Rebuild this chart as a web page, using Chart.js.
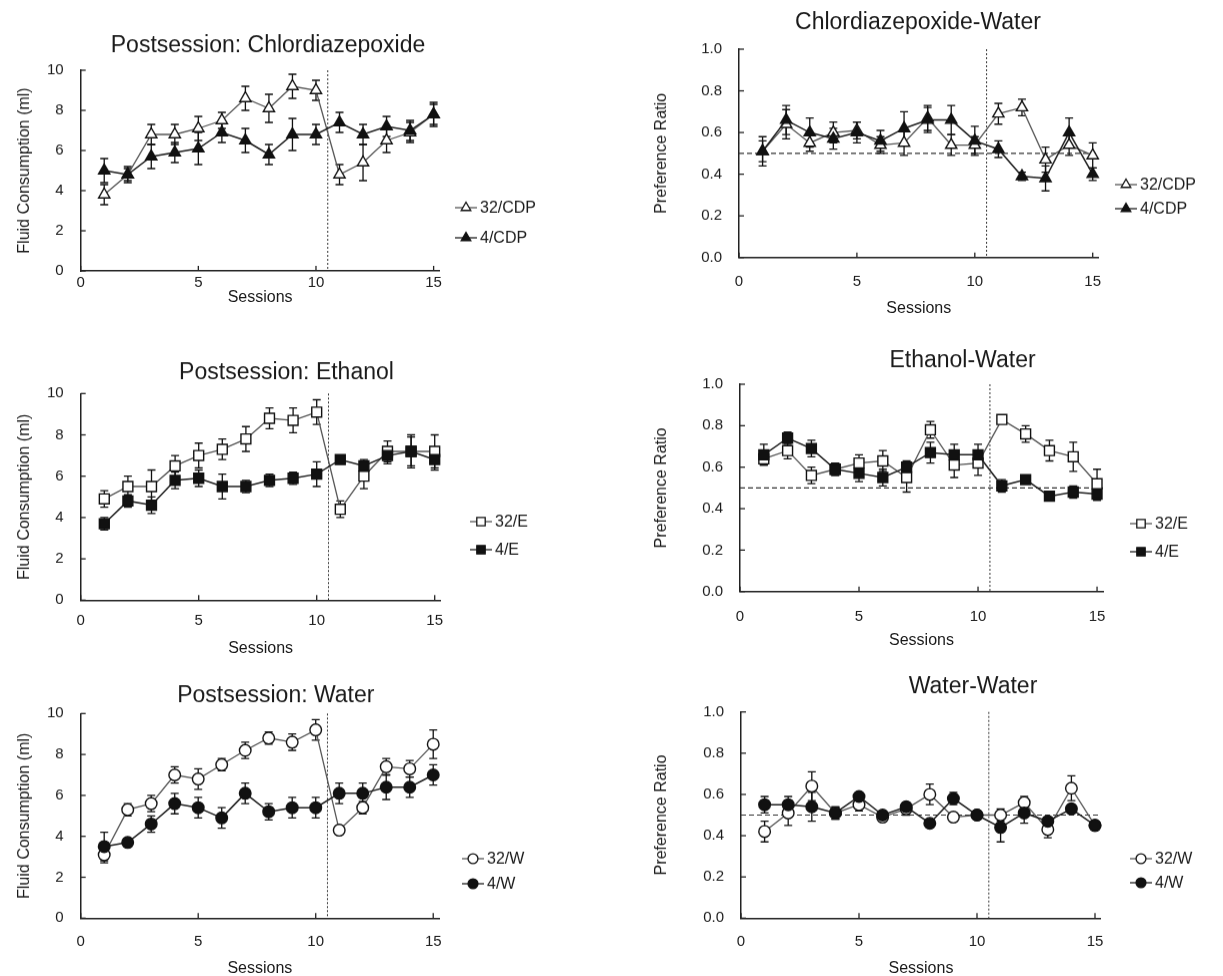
<!DOCTYPE html>
<html>
<head>
<meta charset="utf-8">
<script src="https://cdn.jsdelivr.net/npm/chart.js@4.4.1/dist/chart.umd.min.js"></script>
<style>
  html, body { margin: 0; padding: 0; background: #fff; }
  #page { position: relative; width: 1223px; height: 976px; overflow: hidden; }
  .panel { position: absolute; }
</style>
</head>
<body>
<div id="page"></div>
<script>
const sessions = [1, 2, 3, 4, 5, 6, 7, 8, 9, 10, 11, 12, 13, 14, 15];
const sessionTicks = [0, 5, 10, 15];
const volumeTicks = [0, 2, 4, 6, 8, 10];
const ratioTicks = [0, 0.2, 0.4, 0.6, 0.8, 1.0];
const switchSession = 10.5;
const indifference = 0.5;

// Postsession: Chlordiazepoxide (ml)
const cdp32 = [3.8, 4.8, 6.8, 6.8, 7.1, 7.5, 8.6, 8.1, 9.2, 9.0, 4.8, 5.4, 6.5, 6.9, 7.8];
const cdp32Err = [0.5, 0.3, 0.5, 0.5, 0.6, 0.4, 0.6, 0.7, 0.6, 0.5, 0.5, 0.9, 0.6, 0.5, 0.5];
const cdp4 = [5.0, 4.8, 5.7, 5.9, 6.1, 6.9, 6.5, 5.8, 6.8, 6.8, 7.4, 6.8, 7.2, 7.0, 7.8];
const cdp4Err = [0.6, 0.4, 0.6, 0.5, 0.8, 0.5, 0.6, 0.5, 0.8, 0.5, 0.5, 0.5, 0.5, 0.5, 0.6];

// Chlordiazepoxide-Water preference
const cdpw32 = [0.51, 0.64, 0.55, 0.60, 0.61, 0.54, 0.55, 0.67, 0.54, 0.54, 0.69, 0.72, 0.47, 0.54, 0.49];
const cdpw32Err = [0.05, 0.07, 0.04, 0.05, 0.04, 0.04, 0.06, 0.06, 0.05, 0.04, 0.05, 0.04, 0.06, 0.05, 0.06];
const cdpw4 = [0.51, 0.66, 0.60, 0.57, 0.60, 0.56, 0.62, 0.66, 0.66, 0.56, 0.52, 0.39, 0.38, 0.60, 0.40];
const cdpw4Err = [0.07, 0.07, 0.07, 0.05, 0.05, 0.05, 0.08, 0.06, 0.07, 0.07, 0.04, 0.02, 0.06, 0.07, 0.03];

// Postsession: Ethanol (ml)
const eth32 = [4.9, 5.5, 5.5, 6.5, 7.0, 7.3, 7.8, 8.8, 8.7, 9.1, 4.4, 6.0, 7.2, 7.2, 7.2];
const eth32Err = [0.4, 0.5, 0.8, 0.5, 0.6, 0.5, 0.6, 0.5, 0.6, 0.6, 0.4, 0.6, 0.5, 0.7, 0.8];
const eth4 = [3.7, 4.8, 4.6, 5.8, 5.9, 5.5, 5.5, 5.8, 5.9, 6.1, 6.8, 6.5, 7.0, 7.2, 6.8];
const eth4Err = [0.3, 0.3, 0.4, 0.4, 0.4, 0.6, 0.3, 0.3, 0.3, 0.6, 0.2, 0.3, 0.4, 0.8, 0.5];

// Ethanol-Water preference
const ethw32 = [0.64, 0.68, 0.56, 0.59, 0.62, 0.63, 0.55, 0.78, 0.61, 0.62, 0.83, 0.76, 0.68, 0.65, 0.52];
const ethw32Err = [0.03, 0.04, 0.04, 0.03, 0.04, 0.05, 0.07, 0.04, 0.06, 0.06, 0.02, 0.04, 0.05, 0.07, 0.07];
const ethw4 = [0.66, 0.74, 0.69, 0.59, 0.57, 0.55, 0.60, 0.67, 0.66, 0.66, 0.51, 0.54, 0.46, 0.48, 0.47];
const ethw4Err = [0.05, 0.03, 0.04, 0.03, 0.04, 0.04, 0.03, 0.05, 0.05, 0.05, 0.03, 0.02, 0.02, 0.03, 0.03];

// Postsession: Water (ml)
const wat32 = [3.1, 5.3, 5.6, 7.0, 6.8, 7.5, 8.2, 8.8, 8.6, 9.2, 4.3, 5.4, 7.4, 7.3, 8.5];
const wat32Err = [0.4, 0.3, 0.4, 0.4, 0.5, 0.3, 0.4, 0.3, 0.4, 0.5, 0.2, 0.3, 0.4, 0.4, 0.7];
const wat4 = [3.5, 3.7, 4.6, 5.6, 5.4, 4.9, 6.1, 5.2, 5.4, 5.4, 6.1, 6.1, 6.4, 6.4, 7.0];
const wat4Err = [0.7, 0.2, 0.4, 0.5, 0.5, 0.5, 0.5, 0.4, 0.5, 0.5, 0.5, 0.5, 0.6, 0.5, 0.5];

// Water-Water preference
const watw32 = [0.42, 0.51, 0.64, 0.51, 0.55, 0.49, 0.53, 0.60, 0.49, 0.50, 0.50, 0.56, 0.43, 0.63, 0.45];
const watw32Err = [0.05, 0.06, 0.07, 0.03, 0.03, 0.02, 0.03, 0.05, 0.02, 0.02, 0.03, 0.03, 0.04, 0.06, 0.02];
const watw4 = [0.55, 0.55, 0.54, 0.51, 0.59, 0.50, 0.54, 0.46, 0.58, 0.50, 0.44, 0.51, 0.47, 0.53, 0.45];
const watw4Err = [0.04, 0.04, 0.07, 0.03, 0.02, 0.02, 0.02, 0.02, 0.03, 0.02, 0.07, 0.05, 0.02, 0.02, 0.02];

const FONT = '"Liberation Sans", Arial, Helvetica, sans-serif';
const INK = '#1a1a1a';
Chart.defaults.font.family = FONT;
Chart.defaults.color = INK;

function marker(ctx, style, x, y, r, fill, stroke) {
  ctx.beginPath();
  if (style === 'triangle') {
    ctx.moveTo(x, y - r);
    ctx.lineTo(x + r * 0.866, y + r * 0.5);
    ctx.lineTo(x - r * 0.866, y + r * 0.5);
    ctx.closePath();
  } else if (style === 'rect') {
    const s = r * Math.SQRT2;
    ctx.rect(x - s / 2, y - s / 2, s, s);
  } else {
    ctx.arc(x, y, r, 0, Math.PI * 2);
  }
  ctx.fillStyle = fill;
  ctx.fill();
  ctx.lineWidth = 1.3;
  ctx.strokeStyle = stroke;
  ctx.stroke();
}

// dotted switch line, dashed 0.5 line, inward ticks, error bars
const guides = {
  id: 'guides',
  beforeDatasetsDraw(chart, args, opts) {
    const { ctx, chartArea: a, scales: { x, y } } = chart;
    ctx.save();
    ctx.strokeStyle = '#333';
    ctx.lineWidth = 1;
    ctx.setLineDash([2, 2]);
    const sx = x.getPixelForValue(switchSession);
    ctx.beginPath(); ctx.moveTo(sx, a.top); ctx.lineTo(sx, a.bottom); ctx.stroke();
    if (opts.ratio) {
      ctx.setLineDash([5, 3]);
      ctx.lineWidth = 1.2;
      const hy = y.getPixelForValue(indifference);
      ctx.beginPath(); ctx.moveTo(a.left, hy); ctx.lineTo(a.right, hy); ctx.stroke();
    }
    ctx.setLineDash([]);
    ctx.strokeStyle = '#222';
    ctx.lineWidth = 1.3;
    x.ticks.forEach(t => {
      const px = x.getPixelForValue(t.value);
      ctx.beginPath(); ctx.moveTo(px, a.bottom); ctx.lineTo(px, a.bottom - 5); ctx.stroke();
    });
    y.ticks.forEach(t => {
      const py = y.getPixelForValue(t.value);
      ctx.beginPath(); ctx.moveTo(a.left, py); ctx.lineTo(a.left + 5, py); ctx.stroke();
    });
    ctx.strokeStyle = '#111';
    chart.data.datasets.forEach(ds => {
      ds.data.forEach((p, i) => {
        const e = ds.errors[i];
        const px = x.getPixelForValue(p.x);
        const hi = y.getPixelForValue(p.y + e);
        const lo = y.getPixelForValue(p.y - e);
        ctx.beginPath();
        ctx.moveTo(px, hi); ctx.lineTo(px, lo);
        ctx.moveTo(px - 4, hi); ctx.lineTo(px + 4, hi);
        ctx.moveTo(px - 4, lo); ctx.lineTo(px + 4, lo);
        ctx.stroke();
      });
    });
    ctx.restore();
  }
};

const panelTitle = {
  id: 'panelTitle',
  afterDraw(chart, args, opts) {
    const { ctx } = chart;
    ctx.save();
    ctx.font = '23px ' + FONT;
    ctx.fillStyle = INK;
    ctx.textAlign = 'center';
    ctx.textBaseline = 'alphabetic';
    ctx.fillText(opts.text, opts.x, opts.y);
    ctx.restore();
  }
};

const sideLegend = {
  id: 'sideLegend',
  afterDraw(chart, args, opts) {
    const { ctx } = chart;
    chart.data.datasets.forEach((ds, i) => {
      const x = opts.x, y = opts.y[i];
      ctx.save();
      ctx.strokeStyle = ds.borderColor;
      ctx.lineWidth = 1.3;
      ctx.beginPath(); ctx.moveTo(x, y); ctx.lineTo(x + 22, y); ctx.stroke();
      marker(ctx, ds.pointStyle, x + 11, y, ds.pointRadius * 0.85, ds.pointBackgroundColor, ds.pointBorderColor);
      ctx.fillStyle = INK;
      ctx.font = '16px ' + FONT;
      ctx.textAlign = 'left';
      ctx.textBaseline = 'middle';
      ctx.fillText(ds.label, x + 25, y + 1);
      ctx.restore();
    });
  }
};

function series(label, values, errors, style, filled) {
  return {
    label,
    data: sessions.map((s, i) => ({ x: s, y: values[i] })),
    errors,
    borderColor: filled ? '#1e1e1e' : '#555',
    borderWidth: filled ? 1.5 : 1.3,
    tension: 0,
    pointStyle: style,
    pointRadius: style === 'rect' ? 7 : style === 'triangle' ? 6.5 : 5.8,
    pointBackgroundColor: filled ? '#111' : '#fff',
    pointBorderColor: '#111',
    pointBorderWidth: 1.4,
    order: filled ? 0 : 1,
    clip: false
  };
}

const panels = [
  { box: { left: 0, top: 0, width: 572 }, area: { l: 80.7, t: 70, r: 439.5, b: 270 },
    xLabel: 282, xTitle: 297, title: 'Postsession: Chlordiazepoxide', titlePos: [268, 52],
    ratio: false, legend: { x: 455, y: [207, 237] },
    series: [series('32/CDP', cdp32, cdp32Err, 'triangle', false), series('4/CDP', cdp4, cdp4Err, 'triangle', true)] },
  { box: { left: 640, top: 0, width: 583 }, area: { l: 739, t: 49, r: 1098.6, b: 256.7 },
    xLabel: 281, xTitle: 308, title: 'Chlordiazepoxide-Water', titlePos: [918, 29],
    ratio: true, legend: { x: 1115, y: [184, 208] },
    series: [series('32/CDP', cdpw32, cdpw32Err, 'triangle', false), series('4/CDP', cdpw4, cdpw4Err, 'triangle', true)] },
  { box: { left: 0, top: 320, width: 572 }, area: { l: 80.7, t: 393.3, r: 440.6, b: 599.3 },
    xLabel: 620, xTitle: 648, title: 'Postsession: Ethanol', titlePos: [286.5, 379],
    ratio: false, legend: { x: 470, y: [521, 549] },
    series: [series('32/E', eth32, eth32Err, 'rect', false), series('4/E', eth4, eth4Err, 'rect', true)] },
  { box: { left: 640, top: 320, width: 583 }, area: { l: 740, t: 384, r: 1103, b: 590.7 },
    xLabel: 616, xTitle: 640, title: 'Ethanol-Water', titlePos: [962.5, 367],
    ratio: true, legend: { x: 1130, y: [523, 551] },
    series: [series('32/E', ethw32, ethw32Err, 'rect', false), series('4/E', ethw4, ethw4Err, 'rect', true)] },
  { box: { left: 0, top: 640, width: 572 }, area: { l: 80.7, t: 713.3, r: 439.1, b: 917.3 },
    xLabel: 941, xTitle: 968, title: 'Postsession: Water', titlePos: [275.8, 702],
    ratio: false, legend: { x: 462, y: [858, 883] },
    series: [series('32/W', wat32, wat32Err, 'circle', false), series('4/W', wat4, wat4Err, 'circle', true)] },
  { box: { left: 640, top: 640, width: 583 }, area: { l: 741, t: 711.7, r: 1100.9, b: 917.3 },
    xLabel: 941, xTitle: 968, title: 'Water-Water', titlePos: [973, 693],
    ratio: true, legend: { x: 1130, y: [858, 882] },
    series: [series('32/W', watw32, watw32Err, 'circle', false), series('4/W', watw4, watw4Err, 'circle', true)] }
];

const page = document.getElementById('page');
const TICK_LH = 15 * 1.2, AXIS_LH = 16 * 1.2;

panels.forEach(p => {
  const { box, area } = p;
  const xAxisH = p.xTitle - area.b + AXIS_LH / 2;
  const height = area.b + xAxisH - box.top;
  const div = document.createElement('div');
  div.className = 'panel';
  Object.assign(div.style, { left: box.left + 'px', top: box.top + 'px', width: box.width + 'px', height: height + 'px' });
  const canvas = document.createElement('canvas');
  div.appendChild(canvas);
  page.appendChild(div);

  const yTicks = p.ratio ? ratioTicks : volumeTicks;
  new Chart(canvas, {
    type: 'line',
    data: { datasets: p.series },
    plugins: [guides, panelTitle, sideLegend],
    options: {
      responsive: true,
      maintainAspectRatio: false,
      animation: false,
      layout: { padding: { top: area.t - box.top, right: box.left + box.width - area.r, left: 0, bottom: 0 } },
      plugins: {
        legend: { display: false },
        tooltip: { enabled: false },
        guides: { ratio: p.ratio },
        panelTitle: { text: p.title, x: p.titlePos[0] - box.left, y: p.titlePos[1] - box.top },
        sideLegend: { x: p.legend.x - box.left, y: p.legend.y.map(v => v - box.top) }
      },
      scales: {
        x: {
          type: 'linear', min: 0, max: 15.25,
          afterBuildTicks: s => { s.ticks = sessionTicks.map(v => ({ value: v })); },
          afterFit: s => { s.height = xAxisH; },
          grid: { display: false, drawTicks: false },
          border: { display: true, color: '#222', width: 1.5 },
          ticks: { font: { size: 15 }, padding: p.xLabel - area.b - TICK_LH / 2, maxRotation: 0 },
          title: { display: true, text: 'Sessions', font: { size: 16 }, padding: { top: 0, bottom: 0 } }
        },
        y: {
          min: 0, max: p.ratio ? 1 : 10,
          afterBuildTicks: s => { s.ticks = yTicks.map(v => ({ value: v })); },
          afterFit: s => { s.width = area.l - box.left; },
          grid: { display: false, drawTicks: false },
          border: { display: true, color: '#222', width: 1.5 },
          ticks: { font: { size: 15 }, padding: 17, callback: v => p.ratio ? v.toFixed(1) : String(v) },
          title: { display: true, text: p.ratio ? 'Preference Ratio' : 'Fluid Consumption (ml)', font: { size: 16 },
                   padding: { top: p.ratio ? 12 : 15, bottom: 0 } }
        }
      }
    }
  });
});
</script>
</body>
</html>
